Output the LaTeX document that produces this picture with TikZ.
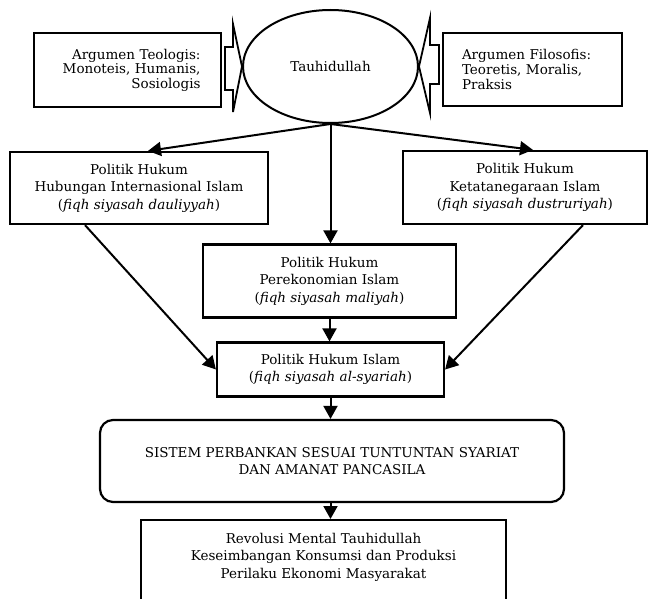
\documentclass[tikz,border=0pt]{standalone}
\usepackage{fontspec}
\setmainfont{DejaVu Serif}
\usetikzlibrary{arrows.meta,shapes.geometric}
\begin{document}
\begin{tikzpicture}[x=1pt,y=-1pt,
  box/.style={draw,line width=2.2pt,rectangle,inner sep=0pt,align=center},
  conn/.style={line width=2pt,-{Triangle[length=13pt,width=14pt]}},
  blockarrow/.style={draw,line width=1.8pt,fill=white,line join=miter},
  small/.style={font=\fontsize{13.5}{14.6}\selectfont},
  mid/.style={font=\fontsize{13.5}{17.5}\selectfont},
]
\useasboundingbox (0,0) rectangle (649,599);

% central concept
\node[draw,ellipse,line width=2pt,minimum width=175pt,minimum height=113pt,inner sep=0pt,mid] (t) at (330.5,66.5) {Tauhidullah};

% supporting arguments
\node[box,small,minimum width=187pt,minimum height=74pt,text width=146pt,align=right] (teo) at (127.5,70) {Argumen Teologis:\\Monoteis, Humanis,\\Sosiologis};
\node[box,small,minimum width=179pt,minimum height=73pt,text width=141pt,align=left] (fil) at (532.5,69.5) {Argumen Filosofis:\\Teoretis, Moralis,\\Praksis};

% block arrows pointing into the ellipse
\draw[blockarrow] (225,47) -- (233,47) -- (233,24) -- (t.west) -- (233,112) -- (233,90) -- (225,90) -- cycle;
\draw[blockarrow] (439,45) -- (430,45) -- (430,18) -- (t.east) -- (430,113) -- (430,84) -- (439,84) -- cycle;

% three branches of Islamic legal politics
\node[box,mid,minimum width=258pt,minimum height=72pt] (hi) at (139,188) {Politik Hukum\\Hubungan Internasional Islam\\(\textit{fiqh siyasah dauliyyah})};
\node[box,mid,minimum width=244pt,minimum height=73pt] (kt) at (525,187.5) {Politik Hukum\\Ketatanegaraan Islam\\(\textit{fiqh siyasah dustruriyah})};
\node[box,mid,minimum width=253pt,minimum height=73pt] (pe) at (329.5,281) {Politik Hukum\\Perekonomian Islam\\(\textit{fiqh siyasah maliyah})};

% synthesis
\node[box,mid,minimum width=227pt,minimum height=54pt] (isl) at (330.5,369.5) {Politik Hukum Islam\\(\textit{fiqh siyasah al-syariah})};
\node[box,mid,minimum width=464pt,minimum height=82pt,rounded corners=13pt] (sis) at (332,461) {SISTEM PERBANKAN SESUAI TUNTUNTAN SYARIAT\\DAN AMANAT PANCASILA};
\node[box,minimum width=365pt,minimum height=120pt,anchor=north] (rm) at (323.5,519) {};
\node[mid,align=center] (rmt) at (323.5,557) {Revolusi Mental Tauhidullah\\Keseimbangan Konsumsi dan Produksi\\Perilaku Ekonomi Masyarakat};

% connectors
\draw[conn] (t.south) -- ([xshift=9pt]hi.north);
\draw[conn] (t.south) -- ([xshift=8pt]kt.north);
\draw[conn] (t.south) -- (t.south |- pe.north);
\draw[conn] ([xshift=-54pt]hi.south) -- (isl.west);
\draw[conn] ([xshift=58pt]kt.south) -- (isl.east);
\draw[conn] (pe.south) -- (pe.south |- isl.north);
\draw[conn] (isl.south) -- (isl.south |- sis.north);
\draw[conn] (sis.south -| isl.south) -- (isl.south |- rm.north);
\end{tikzpicture}
\end{document}
